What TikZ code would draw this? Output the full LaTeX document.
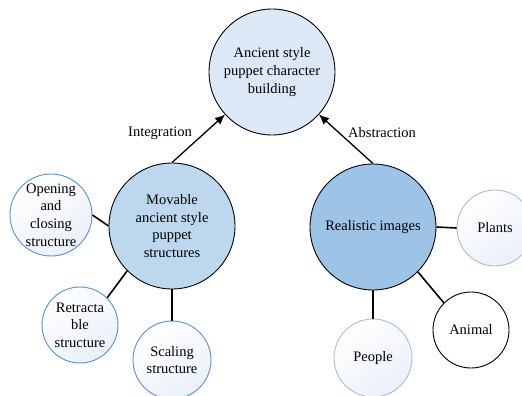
\documentclass[tikz,border=0pt]{standalone}
\usepackage{fontspec}
\setmainfont{Liberation Serif}
\usetikzlibrary{arrows.meta}
\definecolor{topfill}{HTML}{DCE8F5}
\definecolor{movfill}{HTML}{BDD7EE}
\definecolor{realfill}{HTML}{9DC3E6}
\definecolor{smallfill}{HTML}{EBF0F9}
\definecolor{blueedge}{HTML}{5B8FCB}
\definecolor{paleedge}{HTML}{A9BCD8}
\tikzset{
  bigcirc/.style={circle, draw=black, line width=0.9pt, minimum size=126pt, inner sep=0pt, align=center,
    font=\fontsize{14.5}{17.6}\selectfont},
  smallcirc/.style={circle, line width=0.9pt, inner sep=0pt, align=center,
    top color=white, bottom color=smallfill, shading angle=35,
    font=\fontsize{14.5}{17.6}\selectfont},
  conn/.style={line width=1.6pt, draw=black},
  arr/.style={line width=1.3pt, draw=black, -{Latex[length=10pt,width=9pt]}},
  lbl/.style={font=\fontsize{14.5}{17.6}\selectfont}
}
\begin{document}
\begin{tikzpicture}[x=1pt,y=-1pt]
\useasboundingbox (0,0) rectangle (522,396);
\clip (0,0) rectangle (522,396);
\node[bigcirc, fill=topfill] (top) at (272,72) {Ancient style\\puppet character\\building};
\node[bigcirc, fill=movfill] (mov) at (172,226) {Movable\\ancient style\\puppet\\structures};
\node[bigcirc, fill=realfill] (real) at (373,227) {Realistic images};
\node[smallcirc, draw=blueedge, minimum size=82pt] (open) at (51,215) {Opening\\and\\closing\\structure};
\node[smallcirc, draw=blueedge, minimum size=76pt] (retr) at (80,325) {Retracta\\ble\\structure};
\node[smallcirc, draw=blueedge, minimum size=78pt] (scal) at (172,360) {Scaling\\structure};
\node[smallcirc, draw=paleedge, minimum size=76pt] (plant) at (495,228) {Plants};
\node[circle, draw=black, line width=0.9pt, fill=white, minimum size=76pt, inner sep=0pt,
  font=\fontsize{14.5}{17.6}\selectfont] (animal) at (471,330) {Animal};
\node[smallcirc, draw=paleedge, minimum size=78pt] (people) at (373,358) {People};
\draw[arr] (mov.north) -- (top);
\draw[arr] (real.north) -- (top);
\node[lbl] (lint) at (160,133) {Integration};
\node[lbl] (labs) at (382,133) {Abstraction};
\draw[conn] (open.east) -- (mov.west);
\draw[conn] (retr.north east) -- (mov.south west);
\draw[conn] (scal.north) -- (mov.south);
\draw[conn] (real.east) -- (plant.west);
\draw[conn] (real.south east) -- (animal.north west);
\draw[conn] (real.south) -- (people.north);
\end{tikzpicture}
\end{document}
